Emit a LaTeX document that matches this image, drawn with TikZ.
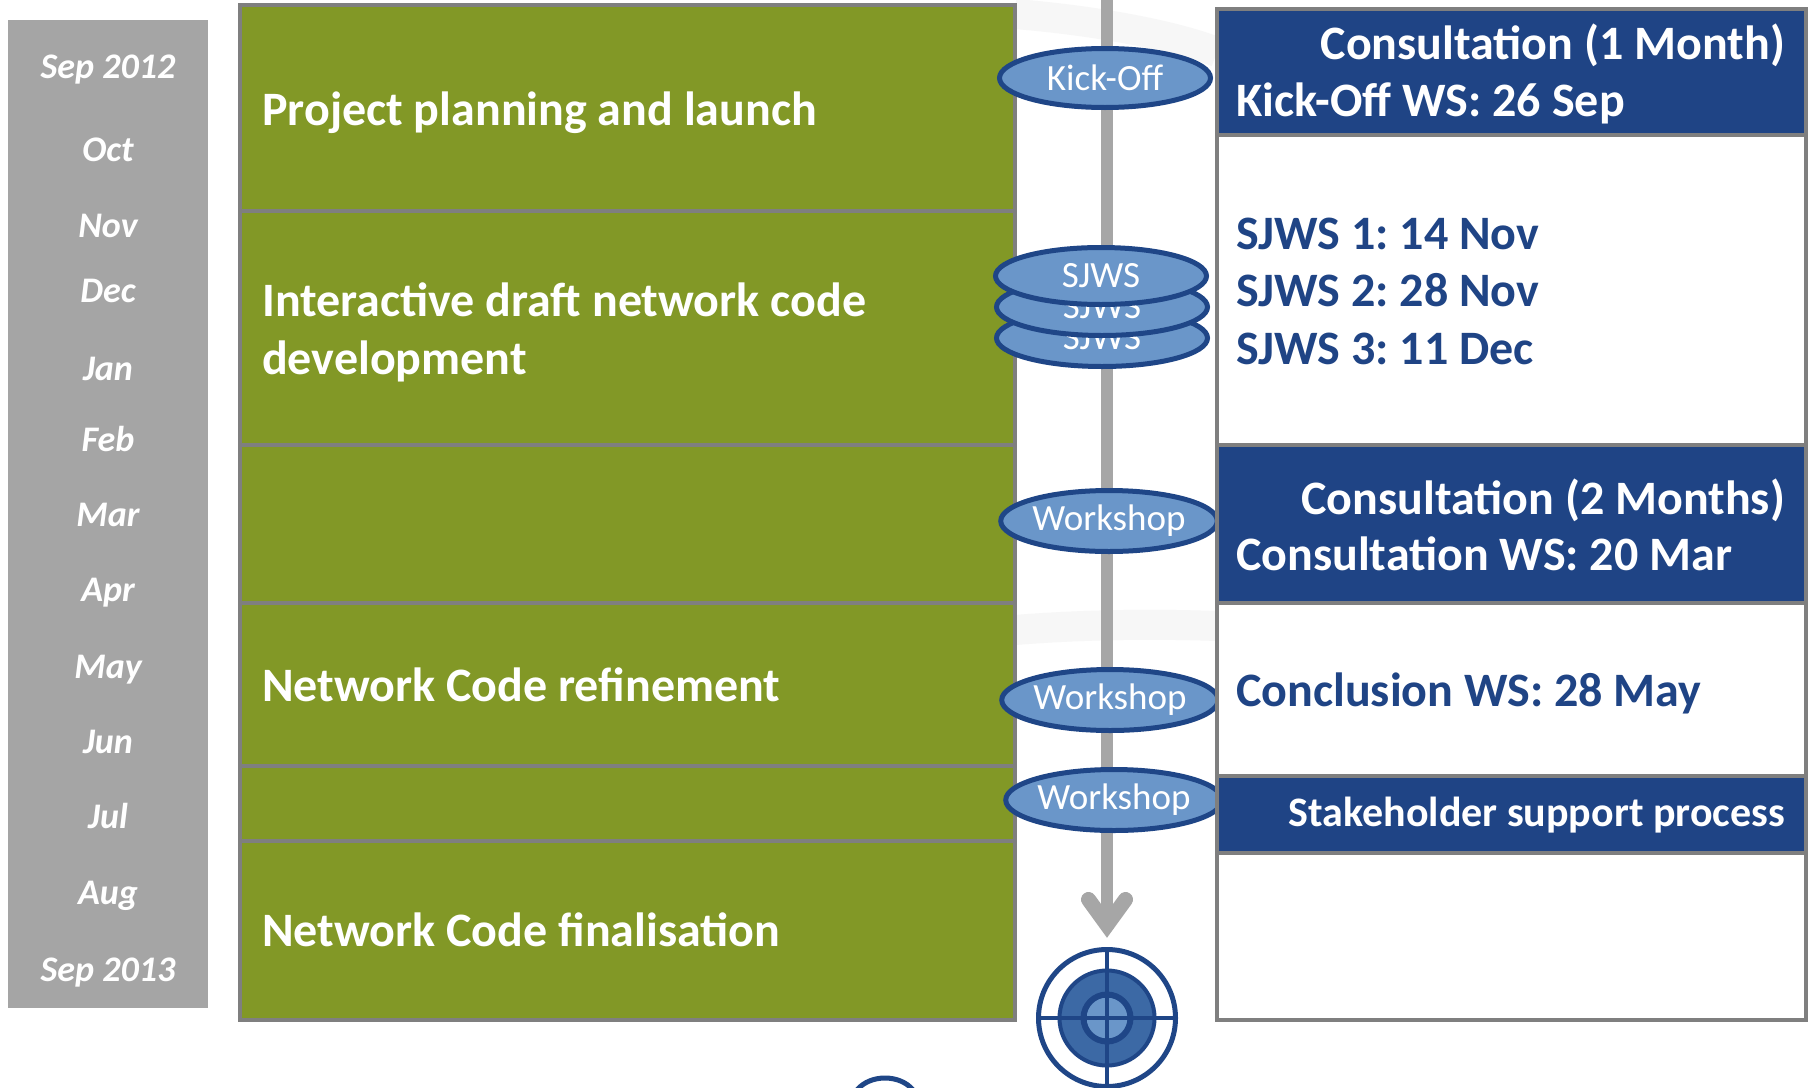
\documentclass[tikz,border=0pt]{standalone}
\usepackage{fontspec}
\setmainfont{Carlito}
\frenchspacing
\usetikzlibrary{shapes.geometric}
\definecolor{grn}{HTML}{829826}
\definecolor{colgray}{HTML}{A5A5A5}
\definecolor{bordergray}{HTML}{7F7F7F}
\definecolor{linegray}{HTML}{A6A6A6}
\definecolor{navy}{HTML}{1F4485}
\definecolor{ellfill}{HTML}{6A96C9}
\definecolor{ellstroke}{HTML}{1F4687}
\definecolor{tmid}{HTML}{3C69A5}
\begin{document}
\begin{tikzpicture}[x=1pt,y=-1pt,
  greenbox/.style={fill=grn, draw=bordergray, line width=4.5pt},
  bluebox/.style={fill=navy, draw=bordergray, line width=4.5pt},
  whitebox/.style={fill=white, draw=bordergray, line width=4.5pt},
  month/.style={font=\fontsize{36}{40}\selectfont\bfseries\itshape, text=white, inner sep=0pt, text height=0.75em, text depth=0.15em},
  greentext/.style={font=\fontsize{48}{58}\selectfont\bfseries, text=white, anchor=west, align=left, inner sep=0pt},
  hdwhite/.style={font=\fontsize{48}{58}\selectfont\bfseries, text=white, inner sep=0pt, text height=0.75em, text depth=0.15em},
  hdblue/.style={font=\fontsize{48}{58}\selectfont\bfseries, text=navy, inner sep=0pt, text height=0.75em, text depth=0.15em, anchor=west},
  evt/.style={ellipse, draw=ellstroke, fill=ellfill, line width=5pt, text=white, font=\fontsize{37}{40}\selectfont, inner sep=0pt},
  faint/.style={line width=30pt, color=black!3},
  flow/.style={draw=linegray, line width=12pt}
]
\useasboundingbox (0,0) rectangle (1812,1087);
\fill[white] (0,0) rectangle (1812,1087);

% faint watermark bands
\draw[faint] (1015,14) .. controls (1090,20) and (1170,34) .. (1217,52);
\draw[faint] (1015,630) .. controls (1090,624) and (1160,624) .. (1217,626);

% month column
\fill[colgray] (8,20) rectangle (208,1008);
\node[month] (m1) at (108,75) {Sep 2012};
\node[month] (m2) at (108,158) {Oct};
\node[month] (m3) at (108,234) {Nov};
\node[month] (m4) at (108,299) {Dec};
\node[month] (m5) at (108,377) {Jan};
\node[month] (m6) at (108,448) {Feb};
\node[month] (m7) at (108,523) {Mar};
\node[month] (m8) at (108,598) {Apr};
\node[month] (m9) at (108,675) {May};
\node[month] (m10) at (108,750) {Jun};
\node[month] (m11) at (108,825) {Jul};
\node[month] (m12) at (108,901) {Aug};
\node[month] (m13) at (108,978) {Sep 2013};

% green phases
\draw[greenbox] (240,5) rectangle (1015,211);
\draw[greenbox] (240,211) rectangle (1015,445);
\draw[greenbox] (240,445) rectangle (1015,603);
\draw[greenbox] (240,603) rectangle (1015,766);
\draw[greenbox] (240,766) rectangle (1015,841);
\draw[greenbox] (240,841) rectangle (1015,1020);
\node[greentext, text height=0.75em, text depth=0.15em] (p1) at (262,122) {Project planning and launch};
\node[greentext] (p2) at (262,332) {Interactive draft network code\\development};
\node[greentext, text height=0.75em, text depth=0.15em] (p3) at (262,698) {Network Code refinement};
\node[greentext, text height=0.75em, text depth=0.15em] (p4) at (262,943) {Network Code finalisation};

% timeline
\coordinate (top) at (1107,0);
\coordinate (tip) at (1107,925);
\draw[flow] (top) -- (tip);
\draw[linegray, line width=15pt, line cap=round, line join=miter] (1088.5,899.5) -- (tip) -- (1125.5,899.5);

% target
\node[circle, draw=ellstroke, line width=5pt, fill=white, minimum size=137pt, inner sep=0pt] (goal) at (1107,1018) {};
\node[circle, draw=ellstroke, line width=4pt, fill=tmid, minimum size=95pt, inner sep=0pt] (goalmid) at (goal) {};
\node[circle, draw=ellstroke, line width=6pt, fill=ellfill, minimum size=47pt, inner sep=0pt] (goalin) at (goal) {};
\draw[ellstroke, line width=3.5pt] (goal.north) -- (goal.south);
\draw[ellstroke, line width=3.5pt] (goal.west) -- (goal.east);

% bottom logo fragment
\draw[ellstroke, line width=5pt] (857,1090) .. controls (870,1074) and (900,1074) .. (913,1090);

% events
\node[evt, minimum width=211pt, minimum height=59pt] (kick) at (1105,78) {Kick-Off};
\node[evt, minimum width=211pt, minimum height=57pt] (sj3) at (1102,338) {SJWS};
\node[evt, minimum width=211pt, minimum height=57pt] (sj2) at (1102,307) {SJWS};
\node[evt, minimum width=211pt, minimum height=57pt] (sj1) at (1101,276) {SJWS};
\node[evt, minimum width=207pt, minimum height=61pt] (ws1) at (1109,521) {Workshop};
\node[evt, minimum width=201pt, minimum height=61pt] (ws2) at (1110,700) {Workshop};
\node[evt, minimum width=207pt, minimum height=61pt] (ws3) at (1114,800) {Workshop};

% right column
\draw[bluebox] (1217,9) rectangle (1806,135);
\draw[whitebox] (1217,135) rectangle (1806,445);
\draw[bluebox] (1217,445) rectangle (1806,603);
\draw[whitebox] (1217,603) rectangle (1806,776);
\draw[bluebox] (1217,776) rectangle (1806,853);
\draw[whitebox] (1217,853) rectangle (1806,1020);

\node[hdwhite, anchor=east] (c1) at (1785,56) {Consultation (1 Month)};
\node[hdwhite, anchor=west] (c1b) at (1236,113) {Kick-Off WS: 26 Sep};
\node[hdblue] (s1) at (1236,246) {SJWS 1: 14 Nov};
\node[hdblue] (s2) at (1236,303) {SJWS 2: 28 Nov};
\node[hdblue] (s3) at (1236,361) {SJWS 3: 11 Dec};
\node[hdwhite, anchor=east] (c2) at (1785,511) {Consultation (2 Months)};
\node[hdwhite, anchor=west] (c2b) at (1236,567) {Consultation WS: 20 Mar};
\node[hdblue] (cw) at (1236,703) {Conclusion WS: 28 May};
\node[hdwhite, anchor=east, font=\fontsize{42}{50}\selectfont\bfseries] (sh) at (1785,823) {Stakeholder support process};
\end{tikzpicture}
\end{document}
